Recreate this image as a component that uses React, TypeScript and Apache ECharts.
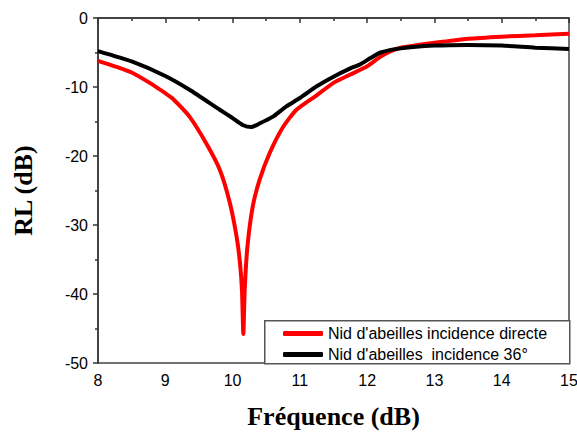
import React, { useEffect, useRef } from "react";
import * as echarts from "echarts";

const seriesNames = ["Nid d'abeilles incidence directe", "Nid d'abeilles  incidence 36°"];
const xTitle = "Fréquence (dB)";
const yTitle = "RL (dB)";

// Frequency and RL values
const redX = [8.0, 8.25, 8.5, 8.75, 9.0, 9.1, 9.36, 9.61, 9.81, 9.96, 10.06, 10.11, 10.14, 10.16, 10.18, 10.22, 10.3, 10.4, 10.55, 10.75, 10.95, 11.25, 11.5, 11.75, 12.0, 12.2, 12.35, 12.5, 13.0, 13.5, 14.0, 14.5, 15.0];
const redY = [-6.2, -7.0, -7.9, -9.3, -10.9, -11.6, -14.3, -18.2, -22.0, -26.8, -31.7, -35.5, -39.5, -45.8, -39.5, -33.2, -27.3, -23.5, -19.6, -15.8, -13.3, -11.2, -9.4, -8.2, -7.0, -5.6, -4.8, -4.3, -3.6, -3.0, -2.7, -2.5, -2.3];

const blackX = [8.0, 8.5, 9.0, 9.36, 9.81, 10.0, 10.15, 10.28, 10.4, 10.6, 10.8, 11.0, 11.25, 11.5, 11.75, 11.9, 12.05, 12.2, 12.5, 13.0, 13.5, 14.0, 14.5, 15.0];
const blackY = [-4.8, -6.3, -8.4, -10.4, -13.3, -14.5, -15.5, -15.8, -15.3, -14.3, -12.8, -11.6, -9.9, -8.5, -7.3, -6.7, -5.8, -5.0, -4.4, -4.0, -3.9, -4.0, -4.3, -4.5];

const colors = ["#ff0000", "#000000"];

export default function App() {
  const ref = useRef<HTMLDivElement>(null);
  useEffect(() => {
    if (!ref.current) return;
    const chart = echarts.init(ref.current, null, { renderer: "svg" });
    const pair = (xs: number[], ys: number[]) => xs.map((x, i) => [x, ys[i]]);
    const axisText = { color: "#000", fontFamily: "Liberation Sans, Arial, sans-serif", fontSize: 16 };
    chart.setOption({
      animation: false,
      backgroundColor: "#fff",
      grid: {
        left: 98, right: 8, top: 18, bottom: 69,
        outerBoundsMode: "none",
        show: true, borderColor: "#444", borderWidth: 1.5, backgroundColor: "transparent",
      },
      xAxis: {
        type: "value", min: 8, max: 15, interval: 1,
        name: xTitle, nameLocation: "middle", nameGap: 40,
        nameTextStyle: { fontFamily: "Liberation Serif, Times New Roman, serif", fontWeight: "bold", fontSize: 26, color: "#000" },
        axisLine: { lineStyle: { color: "#333", width: 1.5 } },
        axisTick: { inside: false, length: 5, lineStyle: { color: "#333", width: 1.5 } },
        minorTick: { show: true, splitNumber: 2, length: 3, lineStyle: { color: "#333", width: 1.5 } },
        axisLabel: { ...axisText, margin: 9 },
        splitLine: { show: false },
      },
      yAxis: {
        type: "value", min: -50, max: 0, interval: 10,
        name: yTitle, nameLocation: "middle", nameGap: 62, nameRotate: 90,
        nameTextStyle: { fontFamily: "Liberation Serif, Times New Roman, serif", fontWeight: "bold", fontSize: 26, color: "#000" },
        axisLine: { lineStyle: { color: "#333", width: 1.5 } },
        axisTick: { inside: false, length: 5, lineStyle: { color: "#333", width: 1.5 } },
        minorTick: { show: true, splitNumber: 2, length: 3, lineStyle: { color: "#333", width: 1.5 } },
        axisLabel: { ...axisText, margin: 10 },
        splitLine: { show: false },
      },
      graphic: [
        {
          type: "rect", z: 3, left: 264, top: 320,
          shape: { width: 305, height: 43 },
          style: { fill: "#fff", stroke: "#555", lineWidth: 1.5 },
        },
      ],
      legend: {
        orient: "vertical", left: 283, top: 325.5, padding: 0,
        itemWidth: 40, itemHeight: 5, itemGap: 5, icon: "roundRect",
        textStyle: { color: "#000", fontFamily: "Liberation Sans, Arial, sans-serif", fontSize: 16, lineHeight: 15 },
        data: seriesNames,
        z: 5,
      },
      series: [
        {
          name: seriesNames[0], type: "line", data: pair(redX, redY),
          symbol: "none", smooth: 0.2,
          color: colors[0], lineStyle: { color: colors[0], width: 4 },
        },
        {
          name: seriesNames[1], type: "line", data: pair(blackX, blackY),
          symbol: "none", smooth: 0.2,
          color: colors[1], lineStyle: { color: colors[1], width: 4 },
        },
      ],
    });
    return () => chart.dispose();
  }, []);
  return <div ref={ref} style={{ position: "absolute", left: 0, top: 0, width: 577, height: 432 }} />;
}
